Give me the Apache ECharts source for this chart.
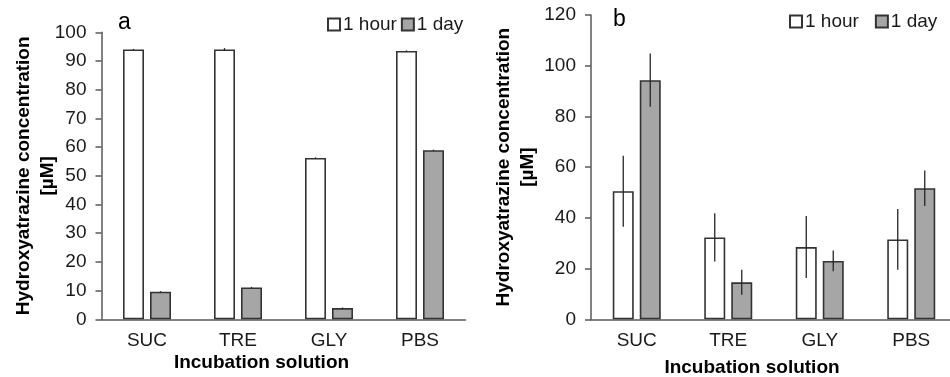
<!DOCTYPE html>
<html>
<head>
<meta charset="utf-8">
<script src="https://cdn.jsdelivr.net/npm/echarts@6/dist/echarts.min.js"></script>
<style>
  html, body { margin: 0; padding: 0; background: #fff; }
  #main { width: 950px; height: 377px; }
</style>
</head>
<body>
<div id="main"></div>
<script>
// categories + series values
const categories = ['SUC', 'TRE', 'GLY', 'PBS'];
const seriesNames = ['1 hour', '1 day'];

// panel a
const hourA = [94.0, 94.0, 56.2, 93.5];
const hourErrA = [0.2, 0.5, 0.2, 0.2];
const dayA = [9.6, 11.1, 3.9, 58.9];
const dayErrA = [0.2, 0.2, 0.2, 0.2];

// panel b
const hourB = [50.5, 32.3, 28.5, 31.5];
const hourErrB = [14.0, 9.5, 12.2, 12.0];
const dayB = [94.3, 14.6, 23.0, 51.7];
const dayErrB = [10.5, 4.9, 4.1, 7.0];

const BAR_W = 21;
const BAR_GAP = 6 / 21;
const FONT = 'Liberation Sans, Arial, sans-serif';

const axisCol = '#595959';
const edgeCol = '#333333';

let chart = echarts.init(document.getElementById('main'));

// error bar rows: [catIndex, low, high]
function errRows(vals, errs) {
  return vals.map((v, i) => [i, v - errs[i], v + errs[i]]);
}

function errSeries(name, vals, errs, side, axisIdx) {
  return {
    type: 'custom',
    name: name + ' err',
    xAxisIndex: axisIdx,
    yAxisIndex: axisIdx,
    z: 5,
    encode: {x: 0, y: [1, 2]},
    data: errRows(vals, errs),
    renderItem: function (params, api) {
      let lo = api.coord([api.value(0), api.value(1)]);
      let hi = api.coord([api.value(0), api.value(2)]);
      let dx = side * (BAR_W + BAR_W * BAR_GAP) / 2;
      return {
        type: 'line',
        shape: {x1: lo[0] + dx, y1: lo[1], x2: hi[0] + dx, y2: hi[1]},
        style: {stroke: '#262626', lineWidth: 1.3}
      };
    }
  };
}

function barSeries(name, vals, axisIdx, fill) {
  return {
    type: 'bar',
    name: name,
    xAxisIndex: axisIdx,
    yAxisIndex: axisIdx,
    barWidth: BAR_W,
    barGap: (BAR_GAP * 100) + '%',
    data: vals,
    itemStyle: {color: fill, borderColor: edgeCol, borderWidth: 1.6}
  };
}

function xAx(gridIdx, nameGap) {
  return {
    type: 'category',
    gridIndex: gridIdx,
    data: categories,
    axisLine: {lineStyle: {color: axisCol, width: 1.5}},
    axisTick: {show: false},
    axisLabel: {color: '#1a1a1a', fontSize: 19, fontFamily: FONT, margin: 12},
    name: 'Incubation solution',
    nameLocation: 'middle',
    nameGap: nameGap,
    nameMoveOverlap: false,
    nameTextStyle: {color: '#000', fontSize: 19, fontWeight: 'bold', fontFamily: FONT, padding: [0, 44, 0, 0]}
  };
}

function yAx(gridIdx, max, interval, nameGap) {
  return {
    type: 'value',
    gridIndex: gridIdx,
    min: 0,
    max: max,
    interval: interval,
    splitLine: {show: false},
    axisLine: {show: true, lineStyle: {color: axisCol, width: 1.5}},
    axisTick: {show: true, length: 6, lineStyle: {color: axisCol, width: 1.5}},
    axisLabel: {color: '#1a1a1a', fontSize: 19, fontFamily: FONT, margin: 15},
    name: 'Hydroxyatrazine concentration\n[µM]',
    nameLocation: 'middle',
    nameGap: nameGap,
    nameMoveOverlap: false,
    nameTextStyle: {color: '#000', fontSize: 19, fontWeight: 'bold', fontFamily: FONT, lineHeight: 24}
  };
}

let legendBase = {
  data: seriesNames,
  icon: 'rect',
  itemWidth: 12,
  itemHeight: 12,
  textStyle: {color: '#1a1a1a', fontSize: 19, fontFamily: FONT, padding: [0, 0, 0, -2]}
};

let option = {
  backgroundColor: '#fff',
  animation: false,
  title: [
    {text: 'a', left: 113, top: 6, textStyle: {fontSize: 23, fontWeight: 'normal', color: '#000', fontFamily: FONT}},
    {text: 'b', left: 608, top: 3, textStyle: {fontSize: 23, fontWeight: 'normal', color: '#000', fontFamily: FONT}}
  ],
  legend: [
    Object.assign({}, legendBase, {left: 322, top: 10, itemGap: 4}),
    Object.assign({}, legendBase, {left: 784, top: 7, itemGap: 16})
  ],
  grid: [
    {left: 101.5, right: 484.5, top: 32.3, bottom: 57.7, outerBoundsMode: 'none'},
    {left: 591, right: -7, top: 15, bottom: 57.7, outerBoundsMode: 'none'}
  ],
  xAxis: [xAx(0, 34), xAx(1, 39)],
  yAxis: [yAx(0, 100, 10, 42), yAx(1, 120, 20, 51)],
  series: [
    barSeries('1 hour', hourA, 0, '#ffffff'),
    barSeries('1 day', dayA, 0, '#a6a6a6'),
    errSeries('1 hour', hourA, hourErrA, -1, 0),
    errSeries('1 day', dayA, dayErrA, 1, 0),
    barSeries('1 hour', hourB, 1, '#ffffff'),
    barSeries('1 day', dayB, 1, '#a6a6a6'),
    errSeries('1 hour', hourB, hourErrB, -1, 1),
    errSeries('1 day', dayB, dayErrB, 1, 1)
  ]
};

chart.setOption(option);
</script>
</body>
</html>
